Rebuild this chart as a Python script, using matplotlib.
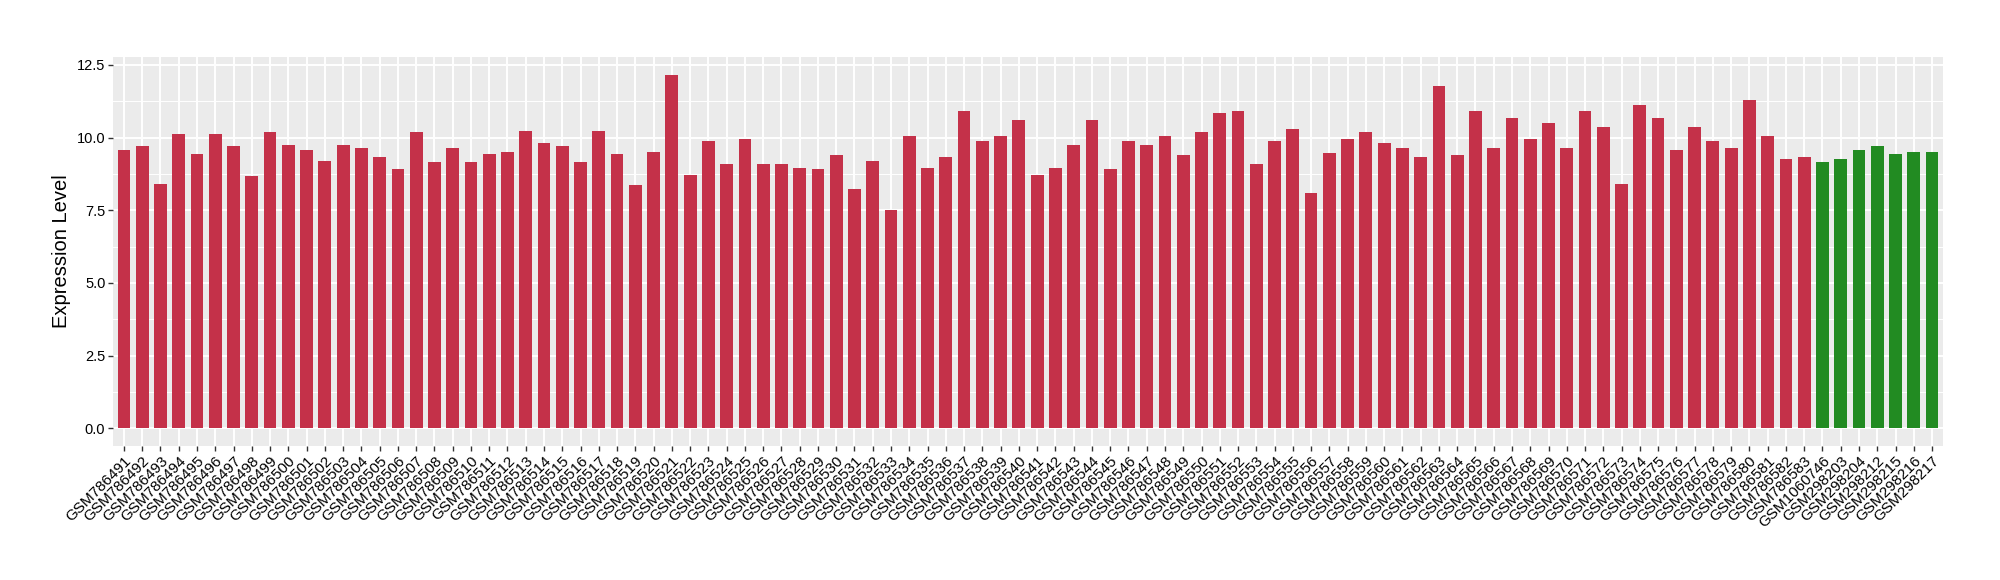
import matplotlib
matplotlib.use("Agg")
import matplotlib.pyplot as plt
import numpy as np

# samples
red_samples = ["GSM%d" % n for n in range(786491, 786584)]
green_samples = ["GSM1060746", "GSM298203", "GSM298204", "GSM298212",
                 "GSM298215", "GSM298216", "GSM298217"]

red_values = [
    9.56, 9.70, 8.39, 10.13, 9.42, 10.13, 9.70, 8.67, 10.21, 9.76,
    9.59, 9.18, 9.76, 9.66, 9.32, 8.91, 10.18, 9.15, 9.66, 9.15,
    9.42, 9.49, 10.24, 9.80, 9.70, 9.15, 10.24, 9.42, 8.36, 9.49,
    12.17, 8.70, 9.87, 9.11, 9.94, 9.08, 9.08, 8.94, 8.91, 9.39,
    8.25, 9.18, 7.50, 10.04, 8.94, 9.32, 10.90, 9.87, 10.07, 10.62,
    8.70, 8.97, 9.73, 10.62, 8.91, 9.90, 9.76, 10.07, 9.39, 10.21,
    10.86, 10.90, 9.11, 9.87, 10.31, 8.08, 9.46, 9.97, 10.18, 9.83,
    9.66, 9.35, 11.76, 9.39, 10.90, 9.66, 10.69, 9.94, 10.52, 9.63,
    10.90, 10.35, 8.39, 11.14, 10.69, 9.59, 10.38, 9.90, 9.66, 11.28,
    10.07, 9.28, 9.35,
]
green_values = [9.15, 9.28, 9.56, 9.70, 9.42, 9.52, 9.52]

labels = red_samples + green_samples
values = red_values + green_values
colors = ["#C43149"] * len(red_values) + ["#228B22"] * len(green_values)

plt.rcParams['font.family'] = ['Liberation Sans', 'DejaVu Sans']

fig = plt.figure(figsize=(20, 5.8), dpi=100)
ax = fig.add_axes([0.0565, 0.231, 0.915, 0.671])

x = np.arange(len(values))
ax.set_facecolor("#EBEBEB")
ax.set_axisbelow(True)
ax.grid(True, which="major", color="white", linewidth=1.4)
ax.set_yticks([1.25, 3.75, 6.25, 8.75, 11.25], minor=True)
ax.grid(True, which="minor", axis="y", color="white", linewidth=0.7)

ax.bar(x, values, width=0.7, color=colors)

ax.set_xlim(-0.6, len(values) - 0.4)
ax.set_ylim(-0.61, 12.78)
ax.set_yticks([0, 2.5, 5, 7.5, 10, 12.5])
ax.set_yticklabels(["0.0", "2.5", "5.0", "7.5", "10.0", "12.5"])
ax.set_xticks(x)
ax.set_xticklabels(labels, rotation=45, ha="right", va="top",
                   rotation_mode="anchor", fontsize=11)

for s in ax.spines.values():
    s.set_visible(False)
ax.tick_params(axis="both", which="major", length=3.5, width=1, color="#333333",
               labelcolor="black", pad=2)
ax.tick_params(axis="y", labelsize=10.5)
ax.tick_params(axis="y", which="minor", length=0)
ax.set_ylabel("Expression Level", fontsize=14.5, labelpad=4)

fig.savefig("out.png", dpi=100, facecolor="white")
